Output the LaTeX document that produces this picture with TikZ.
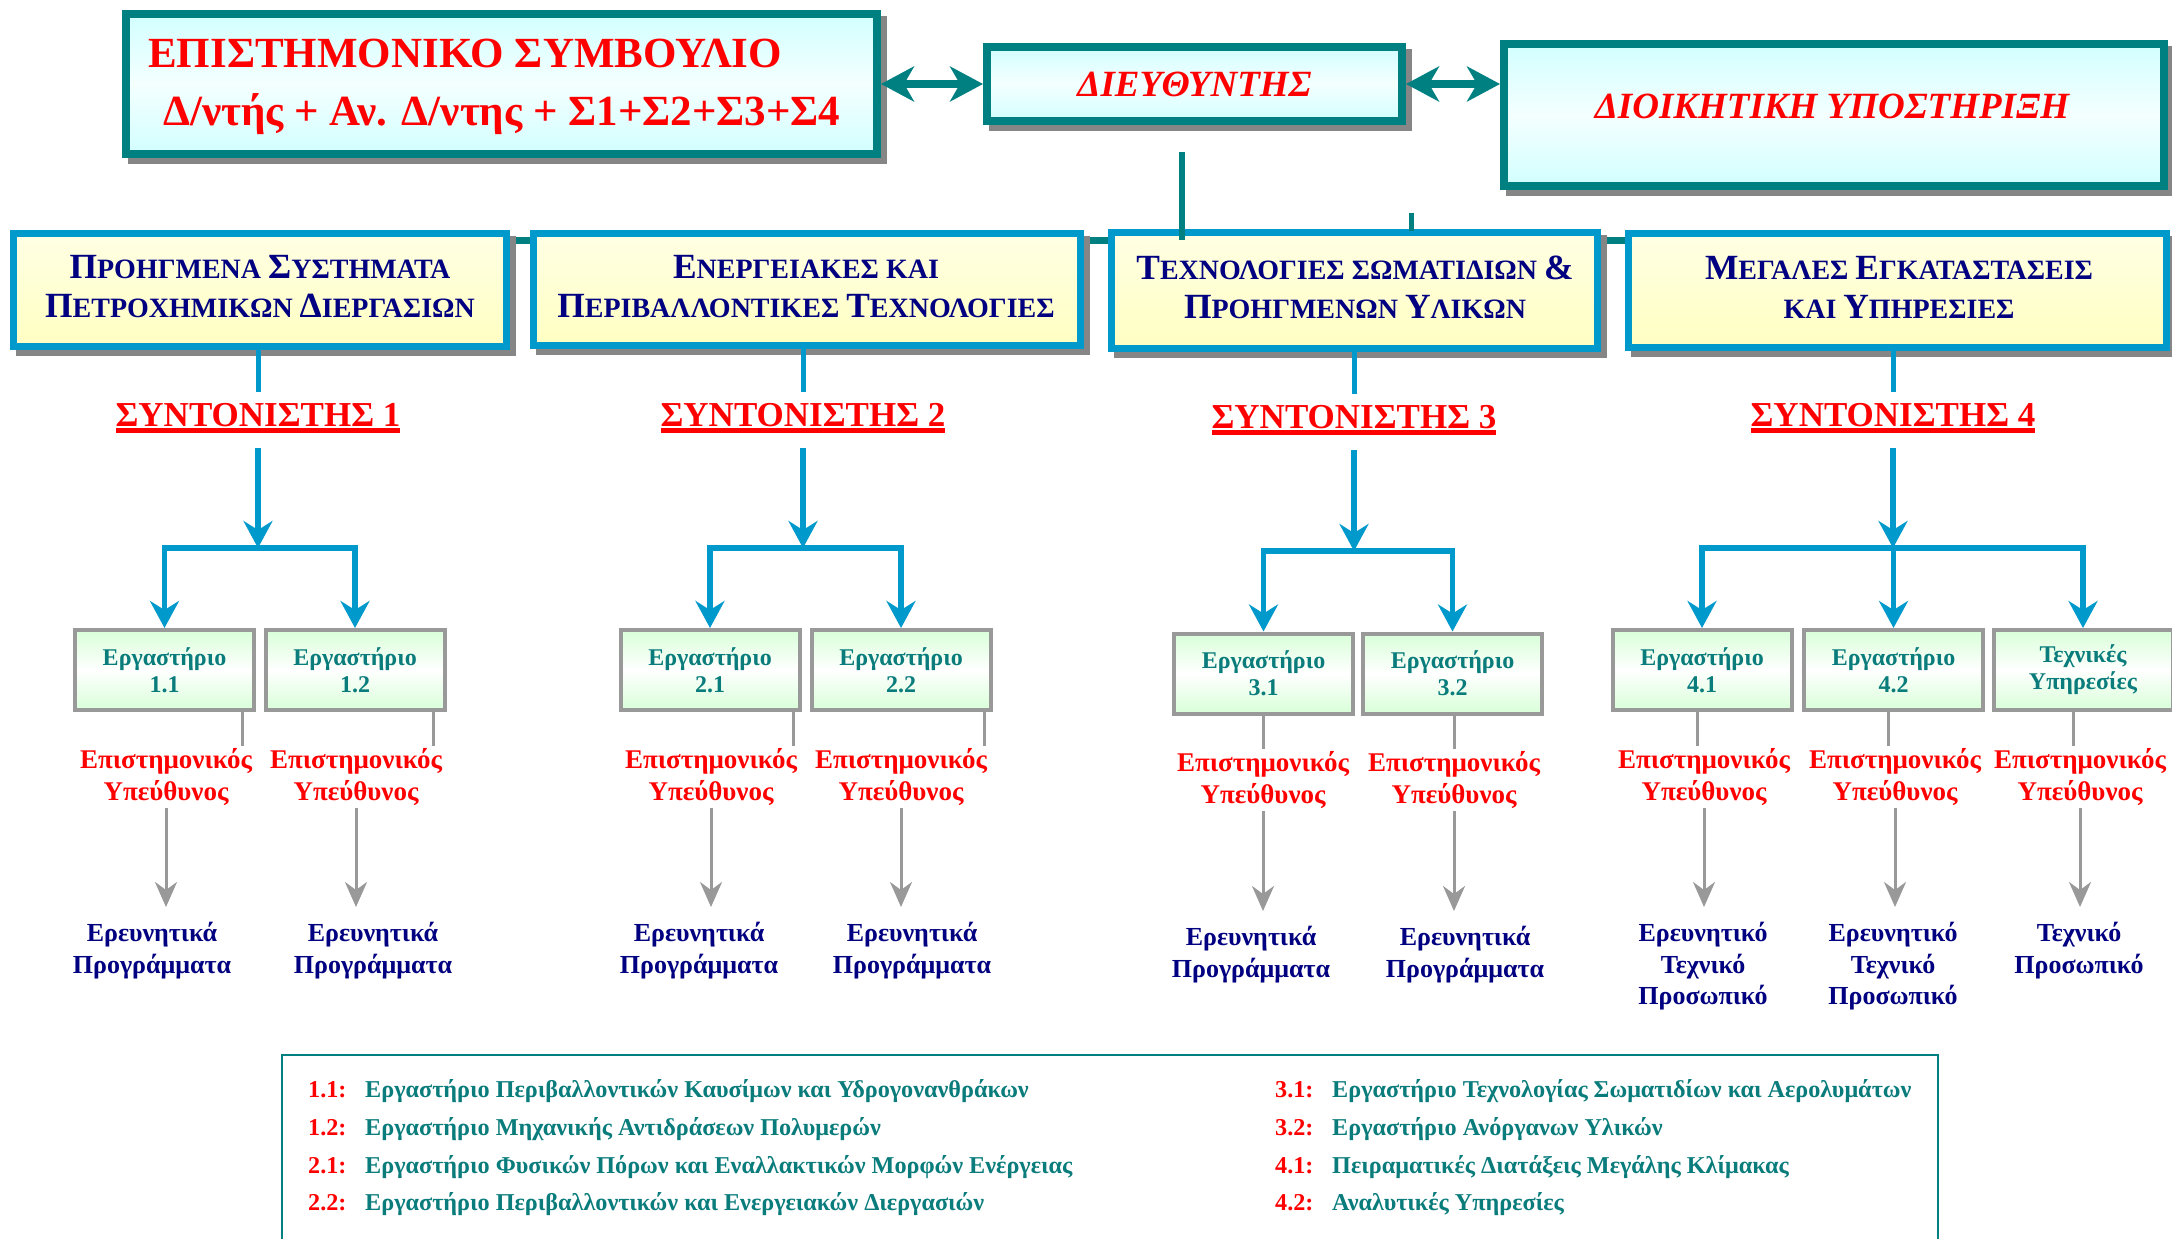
\documentclass[tikz,border=0pt]{standalone}
\usepackage{fontspec}
\setmainfont{Liberation Serif}
\usetikzlibrary{arrows.meta}
\definecolor{cteal}{HTML}{008080}
\definecolor{cblue}{HTML}{0099CC}
\definecolor{cred}{HTML}{FF0000}
\definecolor{cnavy}{HTML}{000080}
\definecolor{cgrey}{HTML}{999999}
\definecolor{cshadow}{HTML}{868686}
\definecolor{clabt}{HTML}{0A7C7C}
\definecolor{ccyan}{HTML}{D2FFFF}
\definecolor{ccyanm}{HTML}{F4FFFF}
\definecolor{cyelA}{HTML}{FFFFE4}
\definecolor{cyelB}{HTML}{FFFFC2}
\definecolor{clab}{HTML}{D8FFD8}
\newcommand\thickul[1]{\setbox0=\hbox{#1}\leavevmode\rlap{\raisebox{-7pt}{\rule{\wd0}{5.5pt}}}\box0}
\newcommand\SC[2]{{\fontsize{35.4}{40}\selectfont #1}#2}
\begin{document}
\begin{tikzpicture}[x=1pt,y=-1pt,
  shadowed/.style={preaction={draw=cshadow, fill=cshadow, transform canvas={xshift=6pt, yshift=-6pt}}},
  topbox/.style={shadowed, draw=cteal, line width=8pt, top color=ccyan, bottom color=ccyan, middle color=ccyanm, inner sep=0pt},
  divbox/.style={shadowed, draw=cblue, line width=7pt, top color=cyelA, bottom color=cyelB, inner sep=0pt},
  titletxt/.style={text=cred, font=\fontsize{43}{50}\selectfont\bfseries, inner sep=0pt},
  ittxt/.style={text=cred, font=\fontsize{37}{44}\selectfont\bfseries\itshape, inner sep=0pt},
  divtxt/.style={text=cnavy, font=\fontsize{28}{39}\selectfont\bfseries, align=center, inner sep=0pt},
  coordtxt/.style={text=cred, font=\fontsize{35}{40}\selectfont\bfseries, inner xsep=0pt, inner ysep=11pt, text height=23pt, text depth=11pt},
  labbox/.style={draw=cgrey, line width=4pt, top color=clab, bottom color=clab, middle color=white, minimum width=179pt, minimum height=80pt, inner sep=0pt, align=center, text=clabt, font=\fontsize{24}{27}\selectfont\bfseries},
  resp/.style={text=cred, font=\fontsize{27}{32}\selectfont\bfseries, align=center, minimum height=62pt, inner sep=0pt},
  outc/.style={text=cnavy, font=\fontsize{26}{32}\selectfont\bfseries, align=center, anchor=north, inner xsep=0pt, inner ysep=15pt},
  legnum/.style={text=cred, font=\fontsize{24.2}{28}\selectfont\bfseries, anchor=base west, inner sep=0pt},
  legtxt/.style={text=clabt, font=\fontsize{24.2}{28}\selectfont\bfseries, anchor=base west, inner sep=0pt},
  tline/.style={draw=cteal, line width=7pt},
  tarrow/.style={draw=cteal, line width=8pt, {Stealth[length=33pt,width=35pt,inset=10pt]}-{Stealth[length=33pt,width=35pt,inset=10pt]}},
  bline/.style={draw=cblue, line width=5pt},
  barrow/.style={draw=cblue, line width=5.5pt, -{Stealth[length=27pt,width=29pt,inset=9pt]}},
  bconn/.style={draw=cblue, line width=5.5pt, line join=miter, {Stealth[length=27pt,width=29pt,inset=9pt]}-{Stealth[length=27pt,width=29pt,inset=9pt]}},
  gline/.style={draw=cgrey, line width=3pt},
  garrow/.style={draw=cgrey, line width=3pt, -{Stealth[length=25pt,width=22pt,inset=8pt]}}
]
\useasboundingbox (0,0) rectangle (2172,1239);
\fill[white] (0,0) rectangle (2172,1239);

% ---------- top row ----------
\node[topbox, minimum width=751pt, minimum height=140pt] (sci) at (501.5,84) {};
\node[titletxt, anchor=base west] (sci1) at (148,67) {ΕΠΙΣΤΗΜΟΝΙΚΟ ΣΥΜΒΟΥΛΙΟ};
\node[titletxt, anchor=base west] (sci2) at (163,125) {Δ/ντής + Αν. Δ/ντης + Σ1+Σ2+Σ3+Σ4};
\node[topbox, ittxt, minimum width=415pt, minimum height=74pt] (dir) at (1194.5,84) {ΔΙΕΥΘΥΝΤΗΣ};
\node[topbox, minimum width=660pt, minimum height=142pt] (adm) at (1834,115) {};
\node[ittxt, anchor=base] (admt) at (1832,118) {ΔΙΟΙΚΗΤΙΚΗ ΥΠΟΣΤΗΡΙΞΗ};

\draw[tarrow] (sci.east) -- (dir.west);
\draw[tarrow] (dir.east) -- (dir.east -| adm.west);

% ---------- teal backbone (behind division boxes) ----------
\coordinate (hlL) at (260,240);
\coordinate (hlR) at (1897,240);
\draw[tline] (hlL) -- (hlR);

% ---------- division boxes ----------
\node[divbox, minimum width=493pt, minimum height=113pt] (d1) at (260,290) {};
\node[divbox, minimum width=547pt, minimum height=112pt] (d2) at (807,289.5) {};
\node[divbox, minimum width=486pt, minimum height=116pt] (d3) at (1354.5,290.5) {};
\node[divbox, minimum width=538pt, minimum height=114pt] (d4) at (1897.5,290.5) {};

\node[divtxt] (d1t) at (260,287) {\SC{Π}{ΡΟΗΓΜΕΝΑ} \SC{Σ}{ΥΣΤΗΜΑΤΑ}\\\SC{Π}{ΕΤΡΟΧΗΜΙΚΩΝ} \SC{Δ}{ΙΕΡΓΑΣΙΩΝ}};
\node[divtxt] (d2t) at (806,287) {\SC{Ε}{ΝΕΡΓΕΙΑΚΕΣ} ΚΑΙ\\\SC{Π}{ΕΡΙΒΑΛΛΟΝΤΙΚΕΣ} \SC{Τ}{ΕΧΝΟΛΟΓΙΕΣ}};
\node[divtxt] (d3t) at (1355,287) {\SC{Τ}{ΕΧΝΟΛΟΓΙΕΣ} ΣΩΜΑΤΙΔΙΩΝ \SC{\&}{}\\\SC{Π}{ΡΟΗΓΜΕΝΩΝ} \SC{Υ}{ΛΙΚΩΝ}};
\node[divtxt] (d4t) at (1899,287) {\SC{Μ}{ΕΓΑΛΕΣ} \SC{Ε}{ΓΚΑΤΑΣΤΑΣΕΙΣ}\\ΚΑΙ \SC{Υ}{ΠΗΡΕΣΙΕΣ}};

% director link and stub
\coordinate (vtop) at (1182,152);
\coordinate (vbot) at (1182,240);
\draw[draw=cteal, line width=6pt] (vtop) -- (vbot);
\coordinate (stA) at (1411,213);
\coordinate (stB) at (1411,231);
\draw[draw=cteal, line width=5pt] (stA) -- (stB);

% ---------- coordinators ----------
\node[coordtxt] (c1) at (258,420) {\thickul{ΣΥΝΤΟΝΙΣΤΗΣ 1}};
\node[coordtxt] (c2) at (803,420) {\thickul{ΣΥΝΤΟΝΙΣΤΗΣ 2}};
\node[coordtxt] (c3) at (1354,422) {\thickul{ΣΥΝΤΟΝΙΣΤΗΣ 3}};
\node[coordtxt] (c4) at (1893,420) {\thickul{ΣΥΝΤΟΝΙΣΤΗΣ 4}};

\draw[bline] (d1.south -| c1.north) -- (c1.north);
\draw[bline] (d2.south -| c2.north) -- (c2.north);
\draw[bline] (d3.south -| c3.north) -- (c3.north);
\draw[bline] (d4.south -| c4.north) -- (c4.north);

\coordinate (bar1) at (258,548);
\coordinate (bar2) at (803,548);
\coordinate (bar3) at (1354,551);
\coordinate (bar4) at (1893,548);
\draw[barrow] (c1.south) -- (bar1);
\draw[barrow] (c2.south) -- (bar2);
\draw[barrow] (c3.south) -- (bar3);
\draw[barrow] (c4.south) -- (bar4);

% ---------- labs ----------
\node[labbox] (l11) at (164.5,670) {Εργαστήριο\\1.1};
\node[labbox] (l12) at (355,670) {Εργαστήριο\\1.2};
\node[labbox] (l21) at (710,670) {Εργαστήριο\\2.1};
\node[labbox] (l22) at (901,670) {Εργαστήριο\\2.2};
\node[labbox] (l31) at (1263.5,673.5) {Εργαστήριο\\3.1};
\node[labbox] (l32) at (1452.5,673.5) {Εργαστήριο\\3.2};
\node[labbox] (l41) at (1702,670) {Εργαστήριο\\4.1};
\node[labbox] (l42) at (1893.5,670) {Εργαστήριο\\4.2};
\node[labbox] (lty) at (2083,670) {Τεχνικές\\Υπηρεσίες};

\draw[bconn] (l11.north) -- (l11.north |- bar1) -- (l12.north |- bar1) -- (l12.north);
\draw[bconn] (l21.north) -- (l21.north |- bar2) -- (l22.north |- bar2) -- (l22.north);
\draw[bconn] (l31.north) -- (l31.north |- bar3) -- (l32.north |- bar3) -- (l32.north);
\draw[bconn] (l41.north) -- (l41.north |- bar4) -- (lty.north |- bar4) -- (lty.north);
\draw[barrow] (l42.north |- bar4) -- (l42.north);

% ---------- responsibles ----------
\node[resp] (r11) at (166,777) {Επιστημονικός\\Υπεύθυνος};
\node[resp] (r12) at (356,777) {Επιστημονικός\\Υπεύθυνος};
\node[resp] (r21) at (711,777) {Επιστημονικός\\Υπεύθυνος};
\node[resp] (r22) at (901,777) {Επιστημονικός\\Υπεύθυνος};
\node[resp] (r31) at (1263,780) {Επιστημονικός\\Υπεύθυνος};
\node[resp] (r32) at (1454,780) {Επιστημονικός\\Υπεύθυνος};
\node[resp] (r41) at (1704,777) {Επιστημονικός\\Υπεύθυνος};
\node[resp] (r42) at (1895,777) {Επιστημονικός\\Υπεύθυνος};
\node[resp] (rty) at (2080,777) {Επιστημονικός\\Υπεύθυνος};

\draw[gline] ([xshift=77.5pt]l11.south) -- ([xshift=77.5pt]l11.south |- r11.north);
\draw[gline] ([xshift=78pt]l12.south) -- ([xshift=78pt]l12.south |- r12.north);
\draw[gline] ([xshift=83pt]l21.south) -- ([xshift=83pt]l21.south |- r21.north);
\draw[gline] ([xshift=83pt]l22.south) -- ([xshift=83pt]l22.south |- r22.north);
\draw[gline] (l31.south) -- (l31.south |- r31.north);
\draw[gline] ([xshift=1.5pt]l32.south) -- ([xshift=1.5pt]l32.south |- r32.north);
\draw[gline] ([xshift=-5pt]l41.south) -- ([xshift=-5pt]l41.south |- r41.north);
\draw[gline] ([xshift=-5.5pt]l42.south) -- ([xshift=-5.5pt]l42.south |- r42.north);
\draw[gline] ([xshift=-10pt]lty.south) -- ([xshift=-10pt]lty.south |- rty.north);

% ---------- outcomes ----------
\node[outc] (n11) at (152,907) {Ερευνητικά\\Προγράμματα};
\node[outc] (n12) at (373,907) {Ερευνητικά\\Προγράμματα};
\node[outc] (n21) at (699,907) {Ερευνητικά\\Προγράμματα};
\node[outc] (n22) at (912,907) {Ερευνητικά\\Προγράμματα};
\node[outc] (n31) at (1251,911) {Ερευνητικά\\Προγράμματα};
\node[outc] (n32) at (1465,911) {Ερευνητικά\\Προγράμματα};
\node[outc, inner ysep=15pt, font=\fontsize{26}{31.5}\selectfont\bfseries] (n41) at (1703,907) {Ερευνητικό\\Τεχνικό\\Προσωπικό};
\node[outc, inner ysep=15pt, font=\fontsize{26}{31.5}\selectfont\bfseries] (n42) at (1893,907) {Ερευνητικό\\Τεχνικό\\Προσωπικό};
\node[outc, inner ysep=15pt, font=\fontsize{26}{31.5}\selectfont\bfseries] (nty) at (2079,907) {Τεχνικό\\Προσωπικό};

\draw[garrow] (r11.south) -- (r11.south |- n11.north);
\draw[garrow] (r12.south) -- (r12.south |- n12.north);
\draw[garrow] (r21.south) -- (r21.south |- n21.north);
\draw[garrow] (r22.south) -- (r22.south |- n22.north);
\draw[garrow] (r31.south) -- (r31.south |- n31.north);
\draw[garrow] (r32.south) -- (r32.south |- n32.north);
\draw[garrow] (r41.south) -- (r41.south |- n41.north);
\draw[garrow] (r42.south) -- (r42.south |- n42.north);
\draw[garrow] (rty.south) -- (rty.south |- nty.north);

% ---------- legend ----------
\coordinate (lgA) at (282,1250);
\coordinate (lgB) at (282,1055);
\coordinate (lgC) at (1938,1055);
\coordinate (lgD) at (1938,1250);
\draw[draw=cteal, line width=2.5pt] (lgA) -- (lgB) -- (lgC) -- (lgD);

\node[legnum] (k11) at (308,1097) {1.1:};
\node[legtxt] (t11) at (365,1097) {Εργαστήριο Περιβαλλοντικών Καυσίμων και Υδρογονανθράκων};
\node[legnum] (k12) at (308,1135) {1.2:};
\node[legtxt] (t12) at (365,1135) {Εργαστήριο Μηχανικής Αντιδράσεων Πολυμερών};
\node[legnum] (k21) at (308,1173) {2.1:};
\node[legtxt] (t21) at (365,1173) {Εργαστήριο Φυσικών Πόρων και Εναλλακτικών Μορφών Ενέργειας};
\node[legnum] (k22) at (308,1210) {2.2:};
\node[legtxt] (t22) at (365,1210) {Εργαστήριο Περιβαλλοντικών και Ενεργειακών Διεργασιών};

\node[legnum] (k31) at (1275,1097) {3.1:};
\node[legtxt] (t31) at (1332,1097) {Εργαστήριο Τεχνολογίας Σωματιδίων και Αερολυμάτων};
\node[legnum] (k32) at (1275,1135) {3.2:};
\node[legtxt] (t32) at (1332,1135) {Εργαστήριο Ανόργανων Υλικών};
\node[legnum] (k41) at (1275,1173) {4.1:};
\node[legtxt] (t41) at (1332,1173) {Πειραματικές Διατάξεις Μεγάλης Κλίμακας};
\node[legnum] (k42) at (1275,1210) {4.2:};
\node[legtxt] (t42) at (1332,1210) {Αναλυτικές Υπηρεσίες};
\end{tikzpicture}
\end{document}
